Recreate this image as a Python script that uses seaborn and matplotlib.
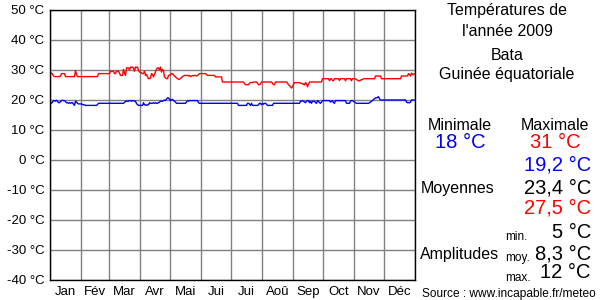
import numpy as np
import pandas as pd
import matplotlib
matplotlib.use("Agg")
import matplotlib.pyplot as plt
import seaborn as sns

months = ["Jan", "Fév", "Mar", "Avr", "Mai", "Jui", "Jui", "Aoû", "Sep", "Oct", "Nov", "Déc"]
month_days = [31, 28, 31, 30, 31, 30, 31, 31, 30, 31, 30, 31]

# daily maximum temperatures (°C)
tmax_jan = [28.8, 29, 28.6, 28, 27.8, 27.8, 27.8, 27.8, 27.8, 27.8, 28, 28.8, 28.8, 28.8, 28.8,
            27.8, 27.8, 27.8, 27.8, 27.8, 27.8, 27.8, 27.8, 27.8, 27.8, 29.8, 28.6, 27.8, 27.8, 27.8, 27.8]
tmax_feb = [27.8] * 17 + [28.8] * 11
tmax_mar = [28.8, 29.6, 29.6, 29.6, 29.6, 28.8, 28.8, 29.6, 29.6, 29.6, 29, 28.2, 28.2, 28.2, 30.2, 29,
            28.2, 30.7, 30.7, 30.7, 30, 31, 30.8, 31, 30.6, 29.6, 31, 30.8, 31, 30, 29.3]
tmax_apr = [29.3, 29, 28.8, 28.8, 29.6, 28.2, 28.5, 27.7, 27.1, 27.1, 27.3, 28.8, 28.5, 27.7, 28.5,
            29.5, 30.2, 30.7, 30.7, 30, 31, 29.3, 30.2, 29.8, 27.7, 27.4, 27.1, 27.1, 28.2, 28.3]
tmax_may = [28.4, 28.8, 28.8, 28.4, 28, 27.7, 27.4, 27.1, 26.9, 26.9, 27.2, 27.5, 27.8, 28, 28.2, 28.2,
            28.2, 28.2, 28, 28.2, 27.8, 28, 28.2, 28, 28.2, 28.2, 28, 28.2, 28.5, 28.8, 28.8]
tmax_jun = [28.8] * 5 + [28.5] + [28.2] * 8 + [27.7] * 7 + [26] * 9
tmax_jul = [26] * 13 + [25.5, 25.1, 25.1, 25.1, 25.1, 25.6, 25.8, 25.8, 25.8, 26, 26, 26, 26, 25.6,
                        25.1, 25.1, 25.4, 26]
tmax_aug = [26] * 10 + [25.6, 25.1, 25.1] + [26] * 12 + [25.6, 25.1, 24.8, 24.4, 24, 24.4]
tmax_sep = [25.2, 25.8, 25.8, 25.8, 25.8, 25.8, 25.8, 25.6, 25.5, 25.5, 25.2, 25, 25.8, 25.5, 24.4,
            25.2, 26, 26] + [26] * 11 + [27.1]
tmax_oct = [27.1, 27.1, 27.1, 27.1, 27.1, 27.1, 26.4, 27.1, 27.1, 26.5, 26.4, 27.1, 27.1, 27.1, 27.1,
            27.1, 26.5, 27.1, 27.1, 27.1, 27.1, 27.1, 26.4, 27.1, 27.1, 27.1, 27.1, 27.1, 26.4, 27.1, 27.1]
tmax_nov = [27.1, 27.1, 26.8, 26.6, 26.4, 26.4, 26.6, 26.8, 26.8] + [27.1] * 12 + [28] * 6 + [27.1] * 3
tmax_dec = [27.1] * 17 + [28] * 7 + [28.8, 28.4, 28, 29, 28.6, 28.4, 28.8]

# daily minimum temperatures (°C)
tmin_jan = [19.2, 18.9, 19.3, 19.8, 19.8, 19.6, 19.9, 19.6, 19.1, 19.1, 19.5, 19.8, 19.9, 19.8, 19.8,
            19.5, 19.1, 19.1, 18.9, 19.1, 18.9, 19.1, 19.1, 18.6, 18.2, 19.6, 19.3, 18.9, 18.7, 18.7, 18.7]
tmin_feb = [18.7, 18.5, 18.4, 18.4] + [18.2] * 12 + [18.5] + [18.9] * 11
tmin_mar = [18.9] * 15 + [19.2, 19.6, 19.6, 19.6, 19.6, 19.8, 19.8, 19.6, 19.8, 19.8, 19.6, 19.6,
                          18.8, 18.5, 18.2, 18.2]
tmin_apr = [18.2, 18.2, 18.2, 19.1, 18.4, 18.4, 18.2, 18.4, 18.4, 19.1, 18.9, 18.9, 18.9, 19.1, 18.9,
            19.1, 18.9, 18.9, 19.1, 19.3, 19.6, 19.6, 19.6, 19.8, 20, 19.8, 20.3, 20.7, 20.7, 20.2]
tmin_may = [19.8, 20.2, 20.2, 19.8, 19.6, 19.3] + [18.9] * 10 + [19.3, 19.8, 19.6] + [19.8] * 9 + \
           [19.1, 18.9, 18.9]
tmin_jun = [18.9] * 30
tmin_jul = [18.9] * 7 + [18.2] * 9 + [18.9, 18.9, 18.6, 18.2, 18.9, 18.2, 18.2, 18.2, 18.2, 18.2, 18.2,
                                      18.4, 18.9, 18.9, 18.4]
tmin_aug = [18.9, 18.6, 18.9, 18.9, 18.6] + [18.2] * 6 + [18.9] * 20
tmin_sep = [18.9] * 7 + [19.6, 19.6, 19.8, 19.6, 19.3, 19.1, 19.6, 19.8, 19.8, 19.1, 19.6, 18.9, 19.6,
                         19.6, 19.6, 19.1, 18.9, 19.8, 19.6, 19.1, 18.9, 19.3, 19.8]
tmin_oct = [19.8] * 7 + [19.3, 19.6, 19.8, 19.1, 18.9] + [19.8] * 11 + [18.9] * 4 + [19.6, 19.8, 19.8, 19.6]
tmin_nov = [19.3, 19.1, 18.9, 18.9] + [18.9] * 11 + [19.1, 19.3, 19.6, 19.8, 20.2, 20.4, 20.7, 20.7,
                                                     20.9, 21.1, 20.4, 20, 20, 20, 20]
tmin_dec = [20] * 22 + [19.3, 19.1, 19.1, 19.1, 19.3, 20, 20, 20, 20]

tmax = (tmax_jan + tmax_feb + tmax_mar + tmax_apr + tmax_may + tmax_jun +
        tmax_jul + tmax_aug + tmax_sep + tmax_oct + tmax_nov + tmax_dec)
tmin = (tmin_jan + tmin_feb + tmin_mar + tmin_apr + tmin_may + tmin_jun +
        tmin_jul + tmin_aug + tmin_sep + tmin_oct + tmin_nov + tmin_dec)

df = pd.DataFrame({"day": np.arange(len(tmax)) + 0.5, "tmin": tmin, "tmax": tmax})

sns.set_style("white")
plt.rcParams['font.family'] = ['Liberation Sans', 'DejaVu Sans']

fig = plt.figure(figsize=(6, 3), dpi=100)
ax = fig.add_axes([50 / 600, 20 / 300, 365 / 600, 270 / 300])

sns.lineplot(data=df, x="day", y="tmax", color="#ff0000", lw=1, ax=ax)
sns.lineplot(data=df, x="day", y="tmin", color="#0000ff", lw=1, ax=ax)

ax.set_xlim(0, 365)
ax.set_ylim(-40, 50)
yt = list(range(-40, 51, 10))
ax.set_yticks(yt)
ax.set_yticklabels([f"{v} °C" for v in yt])
edges = np.cumsum([0] + month_days)
ax.set_xticks(edges)
ax.set_xticklabels([])
ax.set_xticks((edges[:-1] + edges[1:]) / 2, minor=True)
ax.set_xticklabels(months, minor=True)
ax.grid(True, which='major', color='#808080', lw=1)
ax.set_axisbelow(True)
ax.tick_params(which='both', length=0, labelsize=9.5, pad=4, colors='black')
ax.set_xlabel("")
ax.set_ylabel("")
for s in ax.spines.values():
    s.set_color("black")
    s.set_linewidth(1)


def txt(x, y, s, size=11.5, color="black", ha="center"):
    fig.text(x / 600, 1 - y / 300, s, fontsize=size, color=color, ha=ha, va="center")


txt(507, 11, "Températures de")
txt(507, 31, "l'année 2009")
txt(507, 55, "Bata")
txt(507, 75, "Guinée équatoriale")
txt(460, 125, "Minimale")
txt(555, 125, "Maximale")
txt(460, 143, "18 °C", 14.5, "#0000ff")
txt(555, 143, "31 °C", 14.5, "#ff0000")
txt(591, 165, "19,2 °C", 14.5, "#0000ff", "right")
txt(458, 188, "Moyennes")
txt(591, 188, "23,4 °C", 14.5, "black", "right")
txt(591, 208, "27,5 °C", 14.5, "#ff0000", "right")
txt(505, 237, "min.", 8.5, ha="left")
txt(591, 233, "5 °C", 14.5, ha="right")
txt(420, 255, "Amplitudes", ha="left")
txt(505, 258, "moy.", 8.5, ha="left")
txt(591, 254, "8,3 °C", 14.5, ha="right")
txt(505, 278, "max.", 8.5, ha="left")
txt(591, 273, "12 °C", 14.5, ha="right")
txt(509, 294, "Source : www.incapable.fr/meteo", 8.6)

fig.savefig("out.png", dpi=100)
